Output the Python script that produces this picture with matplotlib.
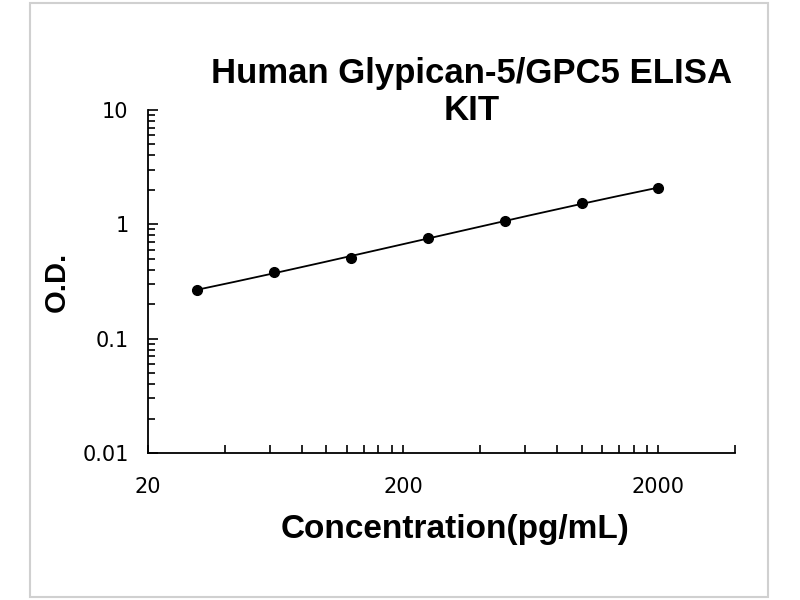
import numpy as np
import matplotlib
matplotlib.use("Agg")
import matplotlib.pyplot as plt
from matplotlib.ticker import FixedLocator, NullFormatter
from matplotlib.patches import Rectangle

# ====================== DATA ======================
concentration = [31.25, 62.5, 125, 250, 500, 1000, 2000]   # pg/mL
od_values = [0.265, 0.385, 0.51, 0.76, 1.06, 1.52, 2.08]
x_major = [20, 200, 2000]
x_major_labels = ["20", "200", "2000"]
y_major = [0.01, 0.1, 1, 10]
y_major_labels = ["0.01", "0.1", "1", "10"]
TITLE = "Human Glypican-5/GPC5 ELISA\nKIT"
# ==================================================

plt.rcParams['font.family'] = ['Liberation Sans', 'DejaVu Sans']

fig = plt.figure(figsize=(8, 6), dpi=100)
ax = fig.add_axes([0.185, 0.245, 0.734, 0.572])

# outer light border
fig.patches.append(Rectangle((0.038, 0.005), 0.922, 0.99, transform=fig.transFigure,
                             fill=False, edgecolor='#d0d0d0', linewidth=1.5))

# smooth trend curve (fit in log-log space)
lx = np.log10(concentration)
ly = np.log10(od_values)
coef = np.polyfit(lx, ly, 3)
xs = np.linspace(lx[0], lx[-1], 200)
ax.plot(10 ** xs, 10 ** np.polyval(coef, xs), color='black', lw=1.3, zorder=2)
ax.plot(concentration, od_values, 'o', color='black', ms=7, zorder=3)

ax.set_xscale('log')
ax.set_yscale('log')
ax.set_xlim(20, 4000)
ax.set_ylim(0.01, 10)

# Excel-style ticks: minor at multiples of 20 per decade
x_minor = [20 * k for k in range(2, 10)] + [200 * k for k in range(2, 10)] + [4000]
ax.xaxis.set_major_locator(FixedLocator(x_major))
ax.xaxis.set_minor_locator(FixedLocator(x_minor))
ax.set_xticklabels(x_major_labels, family='DejaVu Sans')
ax.xaxis.set_minor_formatter(NullFormatter())

y_minor = [d * k for d in [0.01, 0.1, 1] for k in range(2, 10)]
ax.yaxis.set_major_locator(FixedLocator(y_major))
ax.yaxis.set_minor_locator(FixedLocator(y_minor))
ax.set_yticklabels(y_major_labels, family='DejaVu Sans')
ax.yaxis.set_minor_formatter(NullFormatter())

ax.tick_params(axis='both', which='both', direction='in', width=1.2, labelsize=15)
ax.tick_params(axis='x', which='both', length=6, pad=17)
ax.tick_params(axis='y', which='major', length=7, pad=14)
ax.tick_params(axis='y', which='minor', length=5)

for side in ['top', 'right']:
    ax.spines[side].set_visible(False)
for side in ['left', 'bottom']:
    ax.spines[side].set_linewidth(1.3)

ax.set_xlabel("Concentration(pg/mL)", fontsize=24, fontweight='bold', va='center')
ax.xaxis.set_label_coords(0.523, -0.224)
ax.set_ylabel("O.D.", fontsize=21, fontweight='bold', va='center')
ax.yaxis.set_label_coords(-0.155, 0.5)
fig.text(0.59, 0.847, TITLE, ha='center', va='center', fontsize=25,
         fontweight='bold', linespacing=1.15)

fig.savefig("out.png", dpi=100)
